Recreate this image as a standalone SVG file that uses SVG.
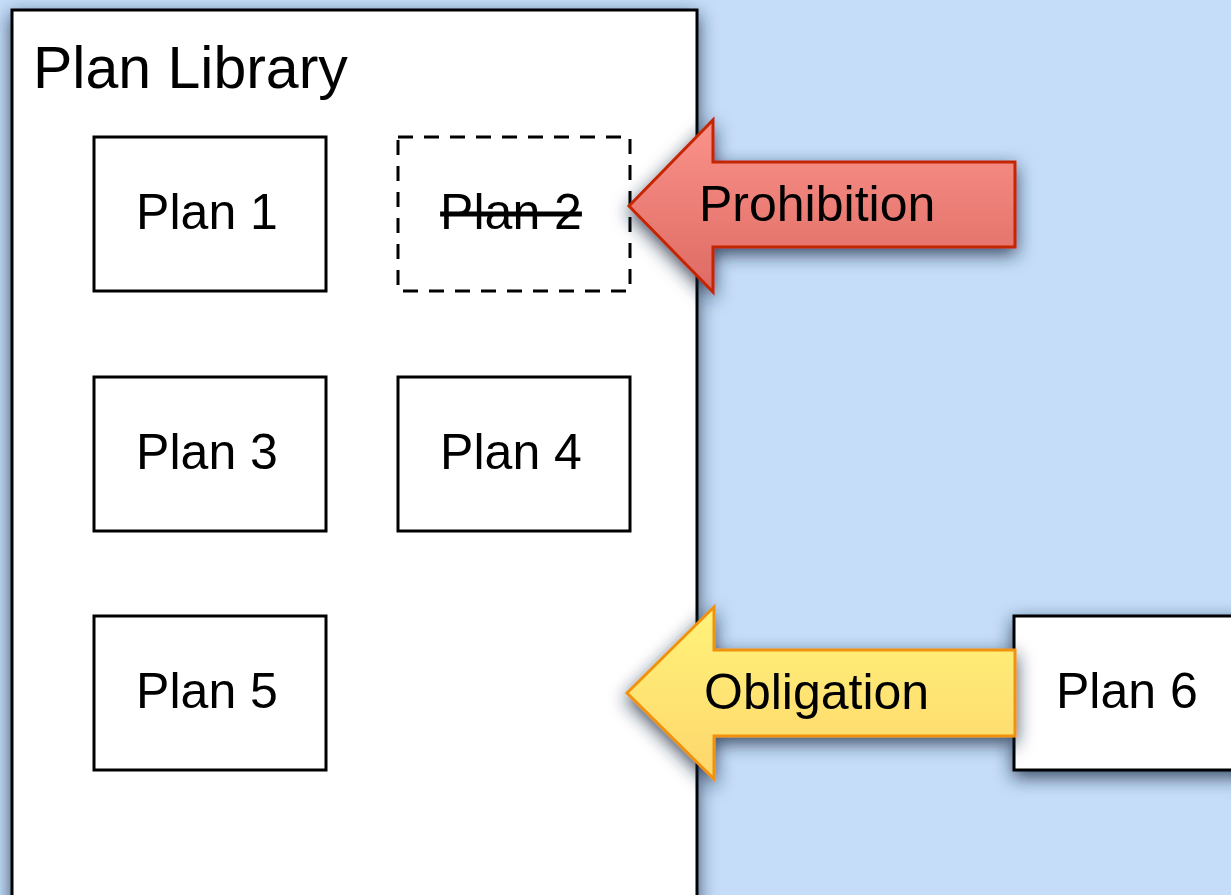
<svg xmlns="http://www.w3.org/2000/svg" width="1231" height="895" viewBox="0 0 1231 895">
<defs>
<style>
.box{fill:#fff;stroke:#000;stroke-width:3}
.lbl{font-family:"Liberation Sans",Arial,sans-serif;font-size:50px;fill:#000}
</style>
<filter id="sh" x="-20%" y="-20%" width="140%" height="140%">
<feDropShadow dx="0" dy="6" stdDeviation="9" flood-color="#18283e" flood-opacity="0.8"/>
</filter>
<linearGradient id="gRed" x1="0" y1="0" x2="0" y2="1">
<stop offset="0" stop-color="#fb938b"/>
<stop offset="1" stop-color="#dd6a62"/>
</linearGradient>
<linearGradient id="gYel" x1="0" y1="0" x2="0" y2="1">
<stop offset="0" stop-color="#fff37a"/>
<stop offset="1" stop-color="#fed66c"/>
</linearGradient>
</defs>
<rect width="1231" height="895" fill="#c5ddf9"/>
<g id="library">
<rect x="12" y="10" width="685" height="900" class="box" filter="url(#sh)"/>
<text x="33" y="88" class="lbl" style="font-size:59px">Plan Library</text>
</g>
<g id="plan1"><rect x="94" y="137" width="232" height="154" class="box"/><text x="207" y="229" class="lbl" text-anchor="middle">Plan 1</text></g>
<g id="plan2"><rect x="398" y="137" width="232" height="154" class="box" stroke-dasharray="15,11"/><text x="511" y="229" class="lbl" text-anchor="middle" text-decoration="line-through">Plan 2</text></g>
<g id="plan3"><rect x="94" y="377" width="232" height="154" class="box"/><text x="207" y="469" class="lbl" text-anchor="middle">Plan 3</text></g>
<g id="plan4"><rect x="398" y="377" width="232" height="154" class="box"/><text x="511" y="469" class="lbl" text-anchor="middle">Plan 4</text></g>
<g id="plan5"><rect x="94" y="616" width="232" height="154" class="box"/><text x="207" y="708" class="lbl" text-anchor="middle">Plan 5</text></g>
<g id="plan6"><rect x="1014" y="616" width="240" height="154" class="box" filter="url(#sh)"/><text x="1056" y="708" class="lbl">Plan 6</text></g>
<g id="connectors">
<g id="prohibition">
<path d="M629,206 L713,120 L713,162 L1015,162 L1015,247 L713,247 L713,292 Z" fill="url(#gRed)" stroke="#c42506" stroke-width="3" filter="url(#sh)"/>
<text x="699" y="221" class="lbl">Prohibition</text>
</g>
<g id="obligation">
<path d="M627,693 L714,607 L714,650 L1015,650 L1015,736 L714,736 L714,779 Z" fill="url(#gYel)" stroke="#f0920c" stroke-width="3" filter="url(#sh)"/>
<text x="704" y="709" class="lbl">Obligation</text>
</g>
</g>
</svg>
